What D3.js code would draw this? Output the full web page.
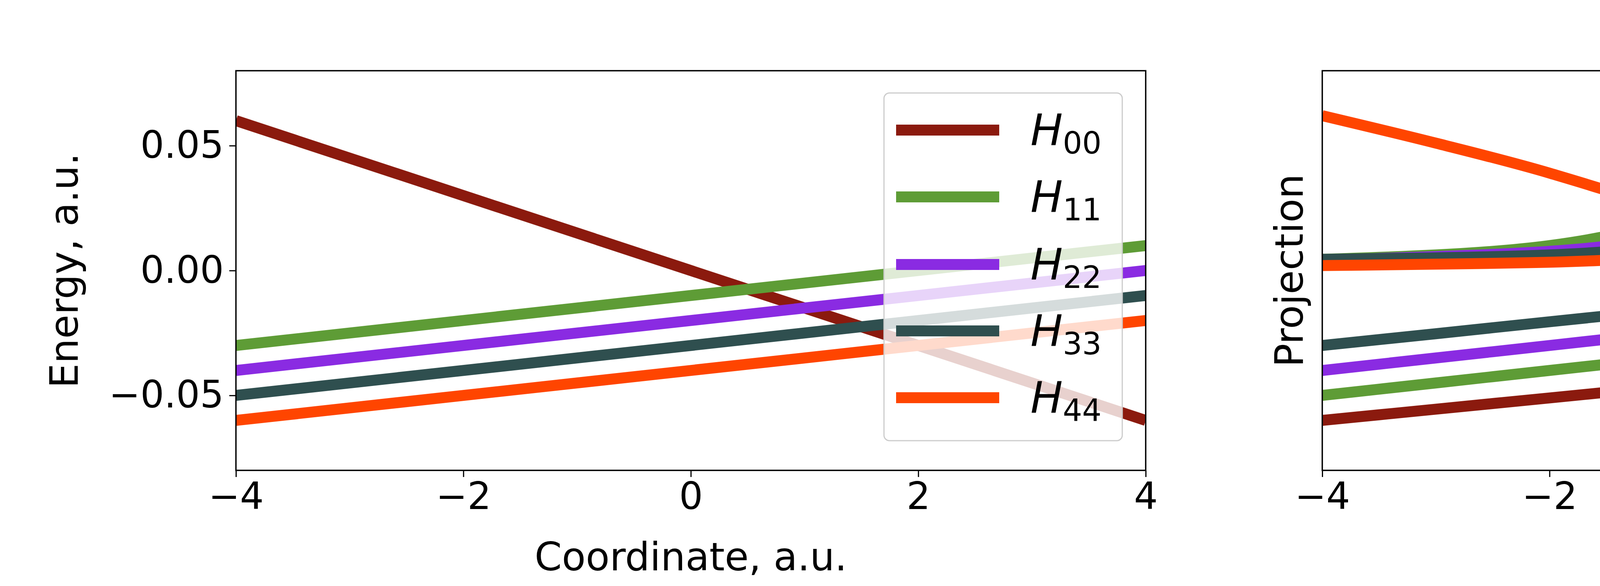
<!DOCTYPE html>
<html><head><meta charset="utf-8">
<script src="https://cdn.jsdelivr.net/npm/d3@7"></script>
<style>body{margin:0;background:#fff}text{font-family:"DejaVu Sans",sans-serif}</style>
</head><body>
<svg id="fig" width="6000" height="1500"></svg>
<script>
// colours of states 0..4
var colors = ["#8b1a0e", "#5e9c36", "#8a2be2", "#2f4f4f", "#ff4500"];
var xTicks = [-4, -2, 0, 2, 4];
var yTicks = [-0.05, 0, 0.05];

// left panel: diabatic energies (linear, end points)
var diaX = [-4, 4];
var H00 = [0.06, -0.06];
var H11 = [-0.03, 0.01];
var H22 = [-0.04, 0.0];
var H33 = [-0.05, -0.01];
var H44 = [-0.06, -0.02];

// right panel: adiabatic energies
var adiX = [-4, -3, -2, -1, 0, 1, 2, 3, 4];
var E0 = [-0.060, -0.0555, -0.051, -0.0465, -0.042, -0.037, -0.035, -0.048, -0.062];
var E1 = [-0.050, -0.045, -0.040, -0.035, -0.030, -0.027, -0.028, -0.024, -0.0195];
var E2 = [-0.040, -0.035, -0.030, -0.025, -0.020, -0.018, -0.019, -0.014, -0.010];
var E3 = [-0.030, -0.0253, -0.0205, -0.0158, -0.011, -0.009, -0.0105, -0.006, -0.002];
var E4x = [-4, -3, -2, -1, -0.5, 0, 0.5, 1, 1.5, 2, 3, 4];
var E4 = [0.062, 0.051, 0.039, 0.024, 0.014, 0.0045, 0.0, -0.002, -0.0025, -0.0015, 0.0045, 0.0105];

// projections <psi_i^dia|psi_4^adi> (plotted on the same axis)
var P0x = [1.2, 1.45, 1.6, 1.8, 2, 2.5, 3, 3.5, 4];
var P0 = [0.12, 0.08, 0.0705, 0.0555, 0.0435, 0.0255, 0.015, 0.009, 0.0045];
var P1x = [-4, -3, -2, -1, -0.5, -0.2, 0, 0.05, 0.2];
var P1 = [0.0045, 0.006, 0.009, 0.018, 0.030, 0.045, 0.0645, 0.08, 0.12];
var P2x = [-4, -2, -1, -0.5, 0, 0.25, 0.55, 1, 1.5, 2, 3, 4];
var P2 = [0.0042, 0.0068, 0.012, 0.021, 0.0345, 0.045, 0.051, 0.036, 0.018, 0.009, 0.0048, 0.0038];
var P3x = [-4, -2, -1, 0, 0.45, 1, 1.5, 2, 3, 4];
var P3 = [0.0045, 0.0056, 0.009, 0.018, 0.022, 0.0135, 0.006, 0.0038, 0.003, 0.003];
var P4x = [-4, -2, -1, 0, 0.4, 1, 1.5, 2, 3, 4];
var P4 = [0.002, 0.003, 0.005, 0.0098, 0.012, 0.006, 0.0015, 0.0003, 0.0, 0.0];

var svg = d3.select("#fig");
var axTop = 181, axBottom = 1204;
var y = d3.scaleLinear().domain([-0.08, 0.08]).range([axBottom, axTop]);

function panel(id, x0, x1, ylabel, showY) {
  var x = d3.scaleLinear().domain([-4, 4]).range([x0, x1]);
  var g = svg.append("g");
  g.append("clipPath").attr("id", id).append("rect")
    .attr("x", x0).attr("y", axTop).attr("width", x1 - x0).attr("height", axBottom - axTop);
  var plot = g.append("g").attr("clip-path", "url(#" + id + ")");
  g.append("rect").attr("x", x0).attr("y", axTop).attr("width", x1 - x0).attr("height", axBottom - axTop)
    .attr("fill", "none").attr("stroke", "#000").attr("stroke-width", 3.5);
  var xa = g.append("g").attr("transform", "translate(0," + axBottom + ")")
    .call(d3.axisBottom(x).tickValues(xTicks).tickSize(17).tickPadding(14).tickFormat(function (d) { return d < 0 ? "\u2212" + (-d) : d; }));
  xa.select(".domain").remove();
  xa.selectAll("line").attr("stroke-width", 3);
  xa.selectAll("text").attr("font-size", 96).attr("dy", "0.71em");
  if (showY) {
    var ya = g.append("g").attr("transform", "translate(" + x0 + ",0)")
      .call(d3.axisLeft(y).tickValues(yTicks).tickSize(17).tickPadding(14).tickFormat(function (d) { var s = d3.format(".2f")(Math.abs(d)); return d < 0 ? "\u2212" + s : s; }));
    ya.select(".domain").remove();
    ya.selectAll("line").attr("stroke-width", 3);
    ya.selectAll("text").attr("font-size", 96);
  }
  g.append("text").attr("x", (x0 + x1) / 2).attr("y", 1460).attr("text-anchor", "middle")
    .attr("font-size", 100).text("Coordinate, a.u.");
  g.append("text").attr("transform", "translate(" + (x0 - (showY ? 405 : 50)) + "," + (axTop + axBottom) / 2 + ") rotate(-90)")
    .attr("text-anchor", "middle").attr("font-size", 100).text(ylabel);
  return { x: x, plot: plot, g: g };
}

function drawLine(p, xs, ys, color, curve) {
  var line = d3.line().x(function (d, i) { return p.x(xs[i]); }).y(function (d) { return y(d); })
    .curve(curve || d3.curveLinear);
  p.plot.append("path").datum(ys).attr("d", line).attr("fill", "none")
    .attr("stroke", color).attr("stroke-width", 28);
}

// legend: entries are arrays of tspan parts
function legend(bx, by, bw, bh, rows, entries) {
  var lg = svg.append("g");
  lg.append("rect").attr("x", bx).attr("y", by).attr("width", bw).attr("height", bh).attr("rx", 14)
    .attr("fill", "#fff").attr("fill-opacity", 0.8).attr("stroke", "#ccc").attr("stroke-width", 3);
  entries.forEach(function (e, i) {
    lg.append("line").attr("x1", bx + 31).attr("x2", bx + 295).attr("y1", rows[i]).attr("y2", rows[i])
      .attr("stroke", colors[i % 5]).attr("stroke-width", 28);
    var t = lg.append("text").attr("x", bx + 375).attr("y", rows[i] + 38).attr("font-size", 110);
    e.forEach(function (part) {
      var ts = t.append("tspan").text(part.t);
      if (part.i) ts.attr("font-style", "italic");
      if (part.dy) ts.attr("dy", part.dy);
      if (part.s) ts.attr("font-size", part.s);
      if (part.dx) ts.attr("dx", part.dx);
    });
  });
}

var left = panel("clipL", 604, 2933, "Energy, a.u.", true);
[H00, H11, H22, H33, H44].forEach(function (h, i) { drawLine(left, diaX, h, colors[i]); });

var right = panel("clipR", 3385, 5712, "Projection", false);
var smooth = d3.curveMonotoneX;
[E0, E1, E2, E3].forEach(function (e, i) { drawLine(right, adiX, e, colors[i], smooth); });
drawLine(right, E4x, E4, colors[4], smooth);
drawLine(right, P0x, P0, colors[0], d3.curveBasis);
drawLine(right, P1x, P1, colors[1], d3.curveBasis);
drawLine(right, P2x, P2, colors[2], d3.curveBasis);
drawLine(right, P3x, P3, colors[3], d3.curveBasis);
drawLine(right, P4x, P4, colors[4], d3.curveBasis);

var rows = [333, 504, 677, 847, 1018];
legend(2263, 238, 610, 890, rows, [0, 1, 2, 3, 4].map(function (k) {
  return [{ t: "H", i: true }, { t: "" + k + k, s: 78, dy: 22 }];
}));
var rowsR = rows.concat([1208, 1409, 1610, 1811, 2012]);
var entR = [0, 1, 2, 3, 4].map(function (k) {
  return [{ t: "E", i: true }, { t: "" + k, s: 78, dy: 22 }];
});
[0, 1, 2, 3, 4].forEach(function (k) {
  entR.push([{ t: "< " }, { t: "\u03c8", i: true }, { t: "dia", i: true, s: 72, dy: -48 },
    { t: "" + k, s: 78, dy: 80, dx: -120 }, { t: "|", dy: -32, dx: 70 }, { t: "\u03c8", i: true },
    { t: "adi", i: true, s: 72, dy: -48 }, { t: "4", s: 78, dy: 80, dx: -110 }, { t: " >", dy: -32, dx: 60 }]);
});
legend(4519, 238, 1135, 2200, rowsR, entR);
</script>
</body></html>
